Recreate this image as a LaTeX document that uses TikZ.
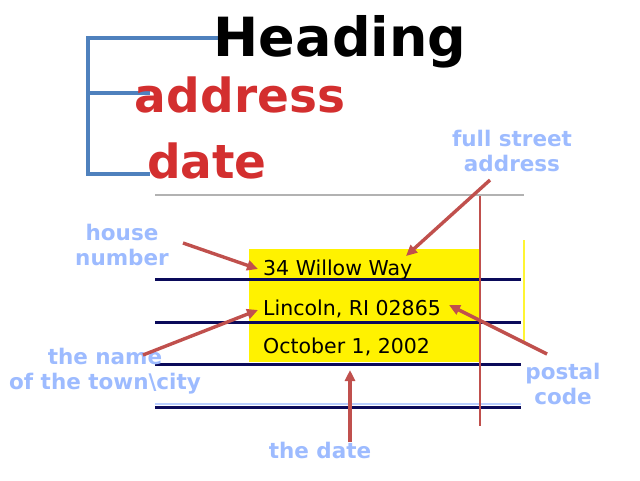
\documentclass[tikz,border=0pt]{standalone}
\usepackage{fontspec}
\setmainfont{DejaVu Sans}
\usepackage{tikz}
\usetikzlibrary{arrows.meta}
\definecolor{brblue}{HTML}{4F81BD}
\definecolor{hdred}{HTML}{D32F2F}
\definecolor{arred}{HTML}{C0504D}
\definecolor{lblblue}{HTML}{9DBBFF}
\definecolor{rulenavy}{HTML}{0A0A5A}
\tikzset{
	bracket/.style={draw=brblue, line width=3.2pt},
	ruleline/.style={draw=rulenavy, line width=3pt},
	pointer/.style={draw=arred, line width=3.4pt, -{Triangle[length=11pt,width=10pt]}},
	lbl/.style={text=lblblue, font=\bfseries\fontsize{21.5}{25}\selectfont, align=center, inner sep=0pt},
	entry/.style={anchor=base west, font=\fontsize{20.5}{22}\selectfont, inner sep=0pt},
	big/.style={font=\bfseries\fontsize{47}{50}\selectfont, text=hdred, anchor=base, inner sep=0pt}
}
\begin{document}
\begin{tikzpicture}[x=1pt, y=-1pt]
	\useasboundingbox (0,0) rectangle (640,480);
	\draw[bracket] (225,38) -| (88,174) -- (150,174);
	\draw[bracket] (88,93) -- (150,93);
	\node[anchor=base, inner sep=0pt, font=\bfseries\fontsize{54}{60}\selectfont] (heading) at (340,56) {Heading};
	\node[big] (address) at (240,112) {address};
	\node[big] (date) at (207,178) {date};
	\fill[yellow] (249,249) rectangle (480,362);
	\draw[yellow!80!white, line width=1.5pt] (524,240) -- (524,343);
	\draw[gray!60, line width=2.5pt] (155,195) -- (524,195);
	\draw[lblblue!70, line width=2.5pt] (155,404) -- (521,404);
	\foreach \y in {279,322,364,407}
		\draw[ruleline] (155,\y) -- (521,\y);
	\draw[arred, line width=2.2pt] (480,196) -- (480,426);
	\node[entry] (street) at (263,275) {34 Willow Way};
	\node[entry] (town) at (263,315) {Lincoln, RI 02865};
	\node[entry] (day) at (263,353) {October 1, 2002};
	\node[lbl] (fullst) at (512,151) {full street\\address};
	\node[lbl] (house) at (122,245) {house\\number};
	\node[lbl] (name) at (105,371) {the name\\of the town\textbackslash city};
	\node[lbl] (postal) at (563,384) {postal\\code};
	\node[lbl] (thedate) at (320,450) {the date};
	\coordinate (fs0) at (490,180);
	\coordinate (fs1) at (406,256);
	\coordinate (hn0) at (183,243);
	\coordinate (hn1) at (258,269);
	\coordinate (nm0) at (143,355);
	\coordinate (nm1) at (258,310);
	\coordinate (pc0) at (547,354);
	\coordinate (pc1) at (449,305);
	\coordinate (td0) at (350,442);
	\coordinate (td1) at (350,370);
	\draw[pointer] (fs0) -- (fs1);
	\draw[pointer] (hn0) -- (hn1);
	\draw[pointer] (nm0) -- (nm1);
	\draw[pointer] (pc0) -- (pc1);
	\draw[pointer] (td0) -- (td1);
\end{tikzpicture}
\end{document}
